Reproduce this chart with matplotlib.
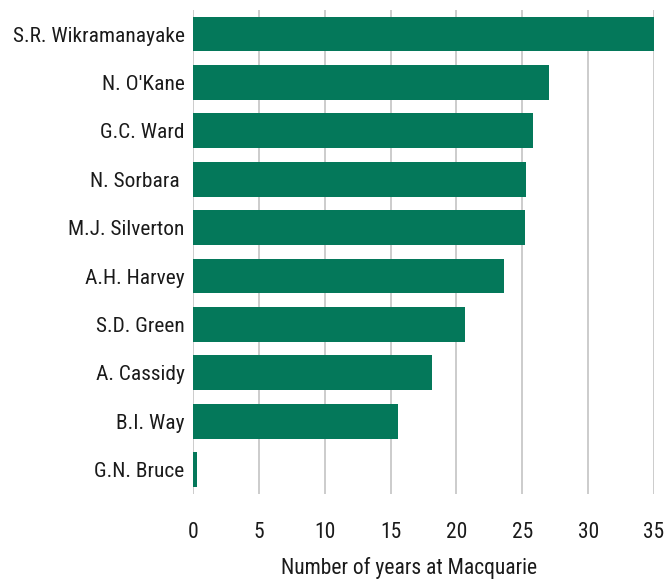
import matplotlib.pyplot as plt

names = ["S.R. Wikramanayake", "N. O'Kane", "G.C. Ward", "N. Sorbara ", "M.J. Silverton",
         "A.H. Harvey", "S.D. Green", "A. Cassidy", "B.I. Way", "G.N. Bruce"]
years = [35.0, 27.0, 25.8, 25.3, 25.2, 23.6, 20.65, 18.15, 15.6, 0.3]
xticks = [0, 5, 10, 15, 20, 25, 30, 35]

GREEN = "#04785a"
GRID = "#c8c8c8"

plt.rcParams["font.family"] = ["Roboto Condensed", "Roboto", "DejaVu Sans"]

fig = plt.figure(figsize=(6.68, 5.79), dpi=100)
ax = fig.add_axes([0.289, 0.147, 0.690, 0.836])

pos = list(range(len(names)))
ax.barh(pos, years, height=0.72, color=GREEN, zorder=3)
ax.set_yticks(pos)
ax.set_yticklabels(names, fontsize=15.4, color="#1a1a1a")
ax.set_ylim(len(names) - 0.5, -0.5)

ax.set_xlim(0, 35)
ax.set_xticks(xticks)
ax.set_xticklabels([str(t) for t in xticks], fontsize=15.5, color="#1a1a1a")
ax.grid(axis="x", color=GRID, linewidth=1.3, zorder=0)
ax.tick_params(axis="both", length=0)
ax.tick_params(axis="x", pad=20)
ax.tick_params(axis="y", pad=6)
for s in ax.spines.values():
    s.set_visible(False)

xl = ax.set_xlabel("Number of years at Macquarie", fontsize=15.5, color="#1a1a1a")
xl.set_verticalalignment("center")
ax.xaxis.set_label_coords(0.469, -0.153)

fig.savefig("out.png", dpi=100)
